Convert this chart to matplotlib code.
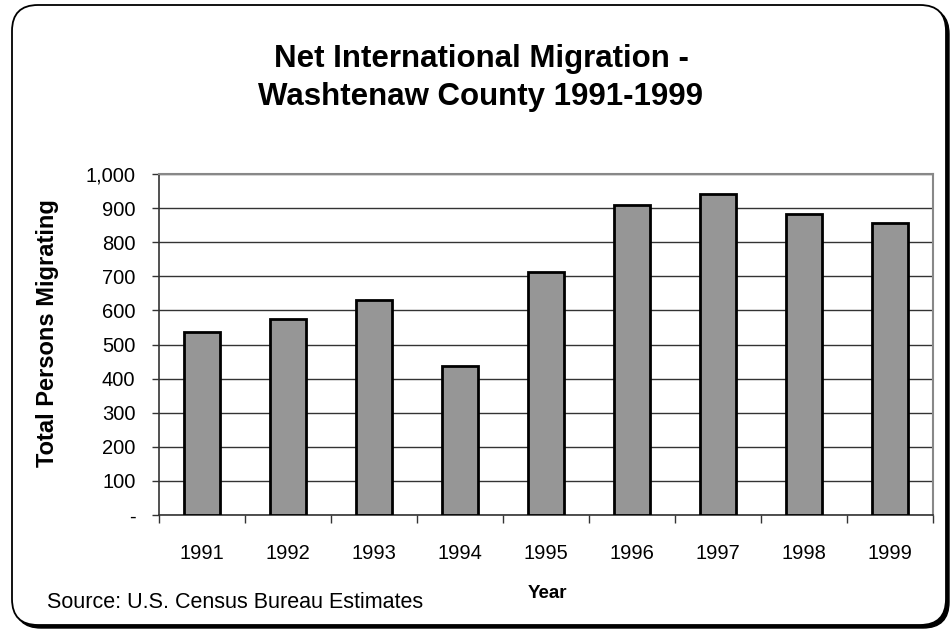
import matplotlib
matplotlib.use('Agg')
import matplotlib.pyplot as plt
from matplotlib.patches import FancyBboxPatch
from matplotlib.ticker import FuncFormatter

plt.rcParams['font.family'] = ['Liberation Sans', 'DejaVu Sans']

# data
years = ['1991', '1992', '1993', '1994', '1995', '1996', '1997', '1998', '1999']
migrants = [537, 575, 630, 437, 712, 909, 940, 884, 856]
y_ticks = [0, 100, 200, 300, 400, 500, 600, 700, 800, 900, 1000]
title_lines = ['Net International Migration -', 'Washtenaw County 1991-1999']

W, H = 951, 629
fig = plt.figure(figsize=(W / 100, H / 100), dpi=100)

# background frame (pixel coords, y up)
bg = fig.add_axes([0, 0, 1, 1])
bg.set_xlim(0, W)
bg.set_ylim(0, H)
bg.axis('off')
shadow = FancyBboxPatch((15, 1), 934, 620, boxstyle='round,pad=0,rounding_size=26',
                        facecolor='black', edgecolor='black', lw=1)
bg.add_patch(shadow)
frame = FancyBboxPatch((12, 4), 934, 620, boxstyle='round,pad=0,rounding_size=26',
                       facecolor='white', edgecolor='black', lw=1.3)
bg.add_patch(frame)

ax = fig.add_axes([159 / W, 114 / H, 774 / W, 341 / H])
x = list(range(len(years)))
ax.set_axisbelow(True)
ax.grid(axis='y', color='#333333', lw=1)
ax.bar(x, migrants, width=0.41, color='#969696', edgecolor='black', lw=2, zorder=3)

ax.set_xlim(-0.5, len(years) - 0.5)
ax.set_ylim(0, 1000)
ax.set_yticks(y_ticks)
ax.yaxis.set_major_formatter(FuncFormatter(lambda v, p: '-' if v == 0 else f'{int(v):,}'))
ax.set_xticks(x)
ax.set_xticklabels(years)
ax.set_xticks([i - 0.5 for i in range(len(years) + 1)], minor=True)
ax.tick_params(axis='x', which='major', length=0, pad=21, labelsize=14.5)
ax.tick_params(axis='x', which='minor', length=6, width=1, color='#333333', direction='out')
ax.tick_params(axis='y', length=5, width=1, color='#333333', pad=12, labelsize=14.5)

for s in ['top', 'right']:
    ax.spines[s].set_color('#888888')
    ax.spines[s].set_linewidth(1.5)
for s in ['left', 'bottom']:
    ax.spines[s].set_color('#333333')
    ax.spines[s].set_linewidth(1.2)

# titles / labels
fig.text(481 / W, 1 - 67 / H, title_lines[0], ha='center', va='baseline',
         fontsize=22.5, fontweight='bold')
fig.text(481 / W, 1 - 105 / H, title_lines[1], ha='center', va='baseline',
         fontsize=22.5, fontweight='bold')
fig.text(48 / W, 1 - 333 / H, 'Total Persons Migrating', ha='center', va='center',
         rotation=90, fontsize=17, fontweight='bold')
fig.text(547 / W, 1 - 598 / H, 'Year', ha='center', va='baseline', fontsize=13.5,
         fontweight='bold')
fig.text(47 / W, 1 - 608 / H, 'Source: U.S. Census Bureau Estimates', ha='left',
         va='baseline', fontsize=15.5)

fig.savefig('out.png', dpi=100)
